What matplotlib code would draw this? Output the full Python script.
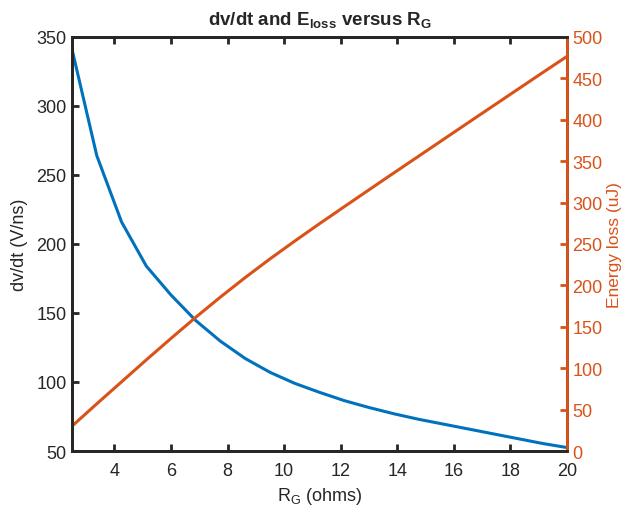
import matplotlib
matplotlib.use("Agg")
import matplotlib.pyplot as plt

plt.rcParams["font.family"] = ["Liberation Sans", "DejaVu Sans"]
plt.rcParams["mathtext.fontset"] = "custom"
plt.rcParams["mathtext.rm"] = "Liberation Sans"
plt.rcParams["mathtext.it"] = "Liberation Sans"
plt.rcParams["mathtext.bf"] = "Liberation Sans:bold"

# Gate resistance sweep (ohms)
rg = [2.5, 3.375, 4.25, 5.125, 6.0, 6.875, 7.75, 8.625, 9.5, 10.375, 11.25,
      12.125, 13.0, 13.875, 14.75, 15.625, 16.5, 17.375, 18.25, 19.125, 20.0]
# Switching slew rate (V/ns)
dvdt = [341, 264, 216, 184, 163, 144.5, 129.5, 117, 107, 99, 92.5,
        86.5, 81.5, 77, 73, 69.5, 66, 62.5, 59, 55.5, 52.5]
# Switching energy loss (uJ)
eloss = [30, 57, 83.5, 110, 136, 161.5, 186, 209.5, 232, 253.5, 274.5,
         295, 315.4, 335.7, 355.9, 376.1, 396.3, 416.4, 436.5, 456.6, 476.5]

xticks = [4, 6, 8, 10, 12, 14, 16, 18, 20]
left_ticks = [50, 100, 150, 200, 250, 300, 350]
right_ticks = list(range(0, 501, 50))

blue = "#0072BD"
orange = "#D95319"
dark = "#262626"

fig = plt.figure(figsize=(6.29, 5.10), dpi=100)
ax = fig.add_axes([0.1145, 0.1137, 0.787, 0.812])
ax2 = ax.twinx()

ax.plot(rg, dvdt, color=blue, lw=2.2, solid_joinstyle="round")
ax2.plot(rg, eloss, color=orange, lw=2.2, solid_joinstyle="round")

ax.set_xlim(2.5, 20)
ax.set_ylim(50, 350)
ax2.set_ylim(0, 500)
ax.set_xticks(xticks)
ax.set_yticks(left_ticks)
ax2.set_yticks(right_ticks)

for a in (ax, ax2):
    for s in a.spines.values():
        s.set_linewidth(2.0)
        s.set_color(dark)
ax2.spines["right"].set_color(orange)

fs = 13
ax.tick_params(axis="x", direction="in", length=5, width=2, top=True,
               labelsize=fs, colors=dark, pad=8)
ax.tick_params(axis="y", direction="in", length=5, width=2,
               labelsize=fs, colors=dark, pad=4)
ax2.tick_params(axis="y", direction="in", length=5, width=2,
                labelsize=fs, colors=orange, pad=4)

ax.set_xlabel(r"R$_\mathrm{G}$ (ohms)", fontsize=fs, color=dark, labelpad=4)
ax.set_ylabel("dv/dt (V/ns)", fontsize=fs, color=dark, labelpad=6)
ax2.set_ylabel("Energy loss (uJ)", fontsize=12.5, color=orange, labelpad=3)
ax.set_title(r"dv/dt and E$_\mathbf{loss}$ versus R$_\mathbf{G}$",
             fontsize=13.5, fontweight="bold", color=dark, pad=9)

fig.savefig("out.png", dpi=100, facecolor="white")
